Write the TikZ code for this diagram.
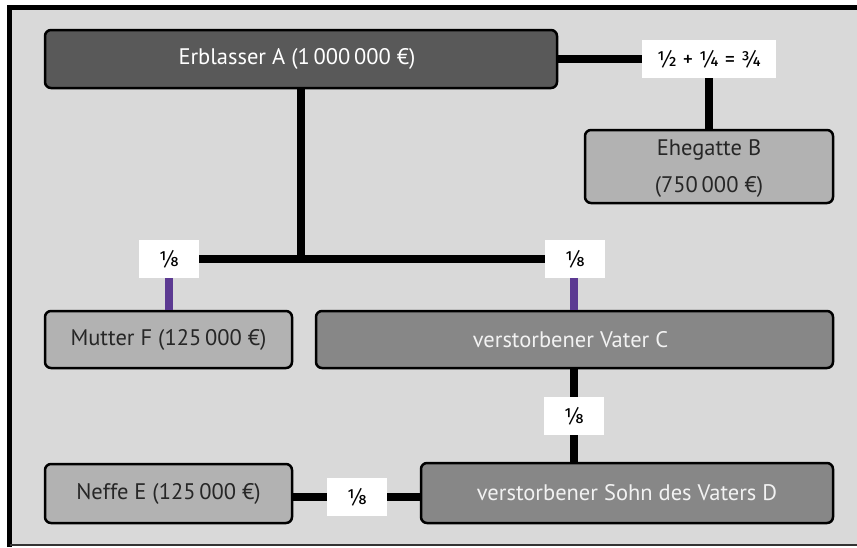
\documentclass[tikz,border=0pt]{standalone}
\usepackage{fontspec}
\setmainfont{PT Sans}
\newfontfamily\fracfont{Fira Sans}
\definecolor{bgc}{HTML}{D9D9D9}
\definecolor{darkc}{HTML}{595959}
\definecolor{midc}{HTML}{878787}
\definecolor{lightc}{HTML}{B2B2B2}
\definecolor{txtc}{HTML}{262626}
\definecolor{purp}{HTML}{5C3A92}
\tikzset{
  box/.style={draw=black, line width=2.5pt, rounded corners=6pt, inner sep=0pt, align=center, font=\fontsize{22.5}{36}\selectfont},
  darkbox/.style={box, fill=darkc, text=white},
  midbox/.style={box, fill=midc, text=white!95!black},
  lightbox/.style={box, fill=lightc, text=txtc},
  frac/.style={fill=white, inner sep=0pt, font=\fracfont\fontsize{21.5}{24}\selectfont},
  link/.style={line width=7.5pt, black},
  plink/.style={line width=7.5pt, purp},
}
\begin{document}
\begin{tikzpicture}[x=1pt, y=-1pt]
\useasboundingbox (0,0) rectangle (857,547);
% frame
\fill[bgc] (10,7) rectangle (857,545);
\draw[line width=5pt] (9.5,547) -- (9.5,7.5) -- (857,7.5);
\draw[line width=1.5pt, black!80] (9.5,545) -- (857,545);
% nodes
\node[darkbox, minimum width=512pt, minimum height=58pt] (A) at (301,59) {\hspace*{-8pt}Erblasser A (1\,000\,000 €)};
\node[lightbox, minimum width=248pt, minimum height=73pt] (B) at (709,166.5) {\raisebox{-5pt}{\begin{tabular}{@{}c@{}}Ehegatte B\\[1pt](750\,000 €)\end{tabular}}};
\node[lightbox, minimum width=247pt, minimum height=57pt] (F) at (168.5,339.5) {Mutter F (125\,000 €)};
\node[midbox, minimum width=517pt, minimum height=57pt] (C) at (574.5,339.5) {\hspace*{-8pt}verstorbener Vater C};
\node[midbox, minimum width=412pt, minimum height=60pt] (D) at (627,493) {verstorbener Sohn des Vaters D};
\node[lightbox, minimum width=247pt, minimum height=59pt] (E) at (168.5,493.5) {Neffe E (125\,000 €)};
% labels
\node[frac, minimum width=134pt, minimum height=38pt] (lb) at (709,59) {½ + ¼ = ¾};
\node[frac, minimum width=60pt, minimum height=38pt] (l1) at (169,259) {⅛};
\node[frac, minimum width=60pt, minimum height=38pt] (l2) at (575,259) {⅛};
\node[frac, minimum width=60pt, minimum height=38pt] (l3) at (574,416) {⅛};
\node[frac, minimum width=60pt, minimum height=38pt] (l4) at (357,497) {⅛};
\coordinate (j) at (301,259);
% connectors
\draw[link] (A.east |- lb.west) -- (lb.west);
\draw[link] (lb.south) -- (B.north);
\draw[link] (A.south -| j) -- (j);
\draw[link] (l1.east) -- (l2.west);
\draw[plink] (l1.south) -- (F.north -| l1.south);
\draw[plink] (l2.south -| 574,0) -- (C.north -| 574,0);
\draw[link] (C.south -| l3.north) -- (l3.north);
\draw[link] (l3.south) -- (D.north -| l3.south);
\draw[link] (E.east |- l4.west) -- (l4.west);
\draw[link] (l4.east) -- (D.west |- l4.east);
\end{tikzpicture}
\end{document}
